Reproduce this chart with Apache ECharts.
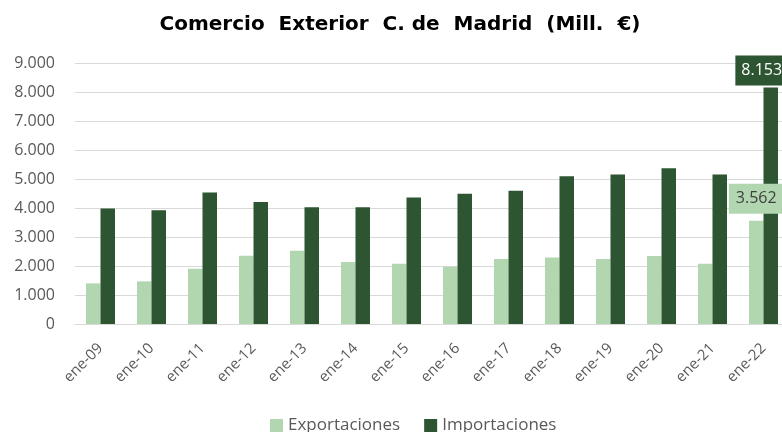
<!DOCTYPE html>
<html>
  <head>
      <meta charset="utf-8">
      <script src="https://cdn.jsdelivr.net/npm/echarts@6/dist/echarts.min.js"></script>
  </head>
  <body style="margin:0;overflow:hidden">
    <!-- plot area runs past the right edge in the original, so the canvas is a bit wider than the window -->
    <div id="main" style="width: 790px;height:432px;"></div>
    <script type="text/javascript">
        var categories = ['ene-09', 'ene-10', 'ene-11', 'ene-12', 'ene-13', 'ene-14', 'ene-15',
                          'ene-16', 'ene-17', 'ene-18', 'ene-19', 'ene-20', 'ene-21', 'ene-22'];
        var exportaciones = [1400, 1470, 1905, 2353, 2525, 2136, 2078, 1974, 2245, 2297, 2239, 2342, 2078, 3562];
        var importaciones = [3985, 3925, 4535, 4203, 4030, 4030, 4364, 4490, 4592, 5098, 5155, 5373, 5155, 8153];
        var yTicks = [0, 1000, 2000, 3000, 4000, 5000, 6000, 7000, 8000, 9000];

        var lightGreen = '#b2d7b0';
        var darkGreen = '#2d5532';
        var font = 'Open Sans';

        var fmt = function (v) {
            return String(v).replace(/\B(?=(\d{3})+(?!\d))/g, '.');
        };

        // only the last bar of each series carries a label
        var withLastLabel = function (values, label) {
            return values.map(function (v, i) {
                if (i < values.length - 1) return v;
                return { value: v, label: label };
            });
        };

        var myChart = echarts.init(document.getElementById('main'));

        var option = {
            animation: false,
            backgroundColor: '#fff',
            title: {
                text: 'Comercio  Exterior  C. de  Madrid  (Mill.  €)',
                left: 395,
                textAlign: 'center',
                top: 10,
                textStyle: {
                    fontFamily: 'DejaVu Sans',
                    fontWeight: 'bold',
                    fontSize: 20,
                    color: '#000'
                }
            },
            legend: {
                top: 417,
                left: 270,
                padding: 0,
                icon: 'rect',
                itemWidth: 13,
                itemHeight: 13,
                itemGap: 24,
                textStyle: { fontFamily: font, fontSize: 17, color: '#595959' },
                data: ['Exportaciones', 'Importaciones']
            },
            grid: {
                left: 75,
                top: 63,
                width: 714,
                height: 261
            },
            xAxis: {
                type: 'category',
                data: categories,
                axisTick: { show: false },
                axisLine: { lineStyle: { color: '#d9d9d9', width: 1 } },
                axisLabel: {
                    rotate: 45,
                    margin: 22,
                    fontFamily: font,
                    fontSize: 15,
                    color: '#595959'
                }
            },
            yAxis: {
                type: 'value',
                min: yTicks[0],
                max: yTicks[yTicks.length - 1],
                interval: 1000,
                axisLine: { show: false },
                axisTick: { show: false },
                splitLine: { lineStyle: { color: '#d9d9d9', width: 1 } },
                axisLabel: {
                    margin: 20,
                    fontFamily: font,
                    fontSize: 16,
                    color: '#595959',
                    formatter: fmt
                }
            },
            series: [
                {
                    name: 'Exportaciones',
                    type: 'bar',
                    barWidth: 14.5,
                    barGap: '0%',
                    itemStyle: { color: lightGreen },
                    data: withLastLabel(exportaciones, {
                        show: true,
                        position: 'top',
                        distance: 7,
                        padding: [7, 7],
                        backgroundColor: lightGreen,
                        color: '#404040',
                        fontFamily: font,
                        fontSize: 16,
                        formatter: function (p) { return fmt(p.value); }
                    })
                },
                {
                    name: 'Importaciones',
                    type: 'bar',
                    barWidth: 14.5,
                    itemStyle: { color: darkGreen },
                    data: withLastLabel(importaciones, {
                        show: true,
                        position: 'top',
                        distance: 2,
                        offset: [-9, 0],
                        padding: [7, 6],
                        backgroundColor: darkGreen,
                        color: '#fff',
                        fontFamily: font,
                        fontSize: 16,
                        formatter: function (p) { return fmt(p.value); }
                    })
                }
            ]
        };
        myChart.setOption(option);
      </script>
  </body>
</html>
